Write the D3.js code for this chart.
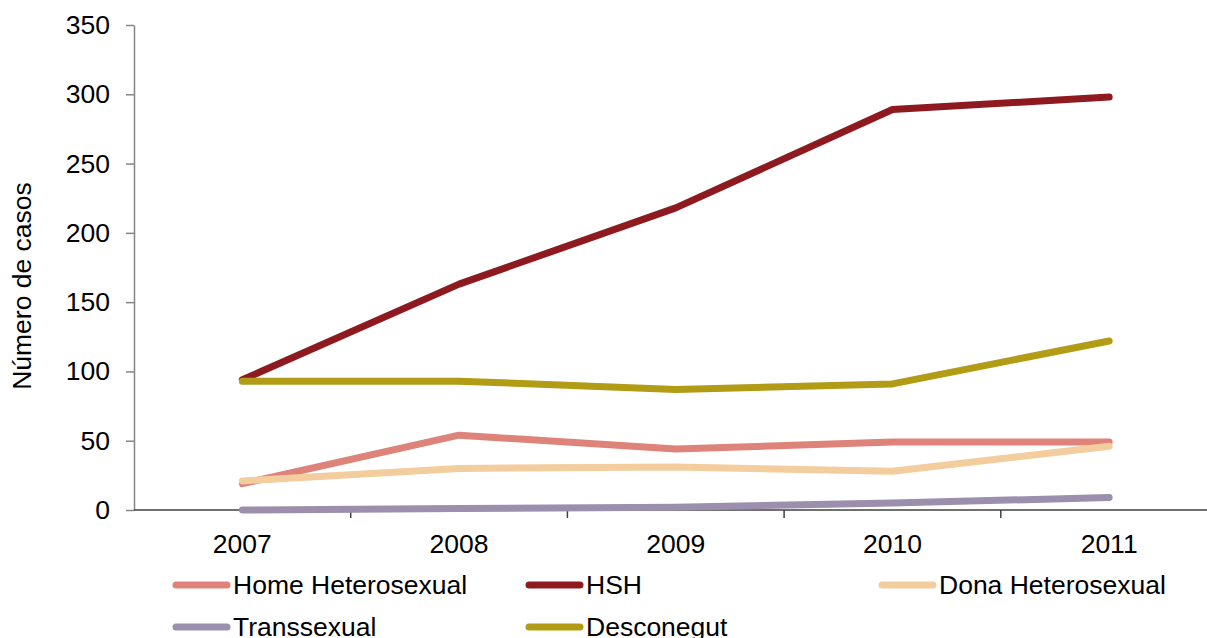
<!DOCTYPE html>
<html>
<head>
<meta charset="utf-8">
<script src="https://cdn.jsdelivr.net/npm/d3@7/dist/d3.min.js"></script>
<style>
  html, body { margin: 0; padding: 0; background: #fff; }
  svg { display: block; font-family: "Liberation Sans", Arial, sans-serif; }
</style>
</head>
<body>
<svg id="chart" width="1207" height="638"></svg>
<script>
// Years on the category axis
const years = ["2007", "2008", "2009", "2010", "2011"];

// Cases per year for each transmission group
const homeHetero = [19, 54, 44, 49, 49];
const hsh        = [94, 163, 218, 289, 298];
const donaHetero = [21, 30, 31, 28, 46];
const transsexual = [0, 1, 2, 5, 9];
const desconegut = [93, 93, 87, 91, 122];

const seriesNames = ["Home Heterosexual", "HSH", "Dona Heterosexual", "Transsexual", "Desconegut"];
const seriesColors = ["#dd837a", "#8e1a20", "#f3cd9d", "#9c8fae", "#b29b15"];
const yTicks = [0, 50, 100, 150, 200, 250, 300, 350];

const series = [homeHetero, hsh, donaHetero, transsexual, desconegut].map((v, i) => ({
  name: seriesNames[i], color: seriesColors[i], values: v
}));

const svg = d3.select("#chart");
const plotLeft = 134, plotRight = 1217.5, plotTop = 25, plotBottom = 510;
const fontSize = 26.5;

const x = d3.scaleBand().domain(years).range([plotLeft, plotRight]);
const y = d3.scaleLinear().domain([0, 350]).range([plotBottom, plotTop]);

// Y axis
const yAxis = svg.append("g")
  .attr("transform", `translate(${plotLeft},0)`)
  .call(d3.axisLeft(y).tickValues(yTicks).tickSize(8).tickPadding(16).tickSizeOuter(0));
yAxis.select(".domain").attr("stroke", "#858585").attr("stroke-width", 1.5);
yAxis.selectAll(".tick line").attr("stroke", "#858585").attr("stroke-width", 1.5);
yAxis.selectAll("text").attr("font-size", fontSize).attr("fill", "#000")
  .attr("font-family", "Liberation Sans, Arial, sans-serif");

// X axis: ticks sit on the category boundaries
const xAxisG = svg.append("g").attr("transform", `translate(0,${plotBottom})`);
xAxisG.append("line").attr("x1", plotLeft).attr("x2", plotRight)
  .attr("stroke", "#404040").attr("stroke-width", 1.5);
years.forEach((yr, i) => {
  if (i > 0) {
    xAxisG.append("line")
      .attr("x1", x(yr)).attr("x2", x(yr)).attr("y1", 0).attr("y2", 8)
      .attr("stroke", "#404040").attr("stroke-width", 1.5);
  }
  xAxisG.append("text")
    .attr("x", x(yr) + x.bandwidth() / 2).attr("y", 43)
    .attr("text-anchor", "middle").attr("font-size", fontSize).attr("fill", "#000")
    .text(yr);
});

// Y axis title
svg.append("text")
  .attr("transform", `translate(31,286) rotate(-90)`)
  .attr("text-anchor", "middle").attr("font-size", fontSize).attr("fill", "#000")
  .text("Número de casos");

// Series lines
const line = d3.line()
  .x((d, i) => x(years[i]) + x.bandwidth() / 2)
  .y(d => y(d));

svg.append("g").selectAll("path").data(series).join("path")
  .attr("d", d => line(d.values))
  .attr("fill", "none")
  .attr("stroke", d => d.color)
  .attr("stroke-width", 7)
  .attr("stroke-linecap", "round")
  .attr("stroke-linejoin", "round");

// Legend: two rows of three columns
const legend = svg.append("g");
const colX = [176, 529, 882];
const rowY = [585, 627];
series.forEach((s, i) => {
  const cx = colX[i % 3], cy = rowY[Math.floor(i / 3)];
  legend.append("line")
    .attr("x1", cx).attr("x2", cx + 51).attr("y1", cy).attr("y2", cy)
    .attr("stroke", s.color).attr("stroke-width", 7).attr("stroke-linecap", "round");
  legend.append("text")
    .attr("x", cx + 57).attr("y", cy + 9)
    .attr("font-size", fontSize).attr("fill", "#000")
    .text(s.name);
});
</script>
</body>
</html>
